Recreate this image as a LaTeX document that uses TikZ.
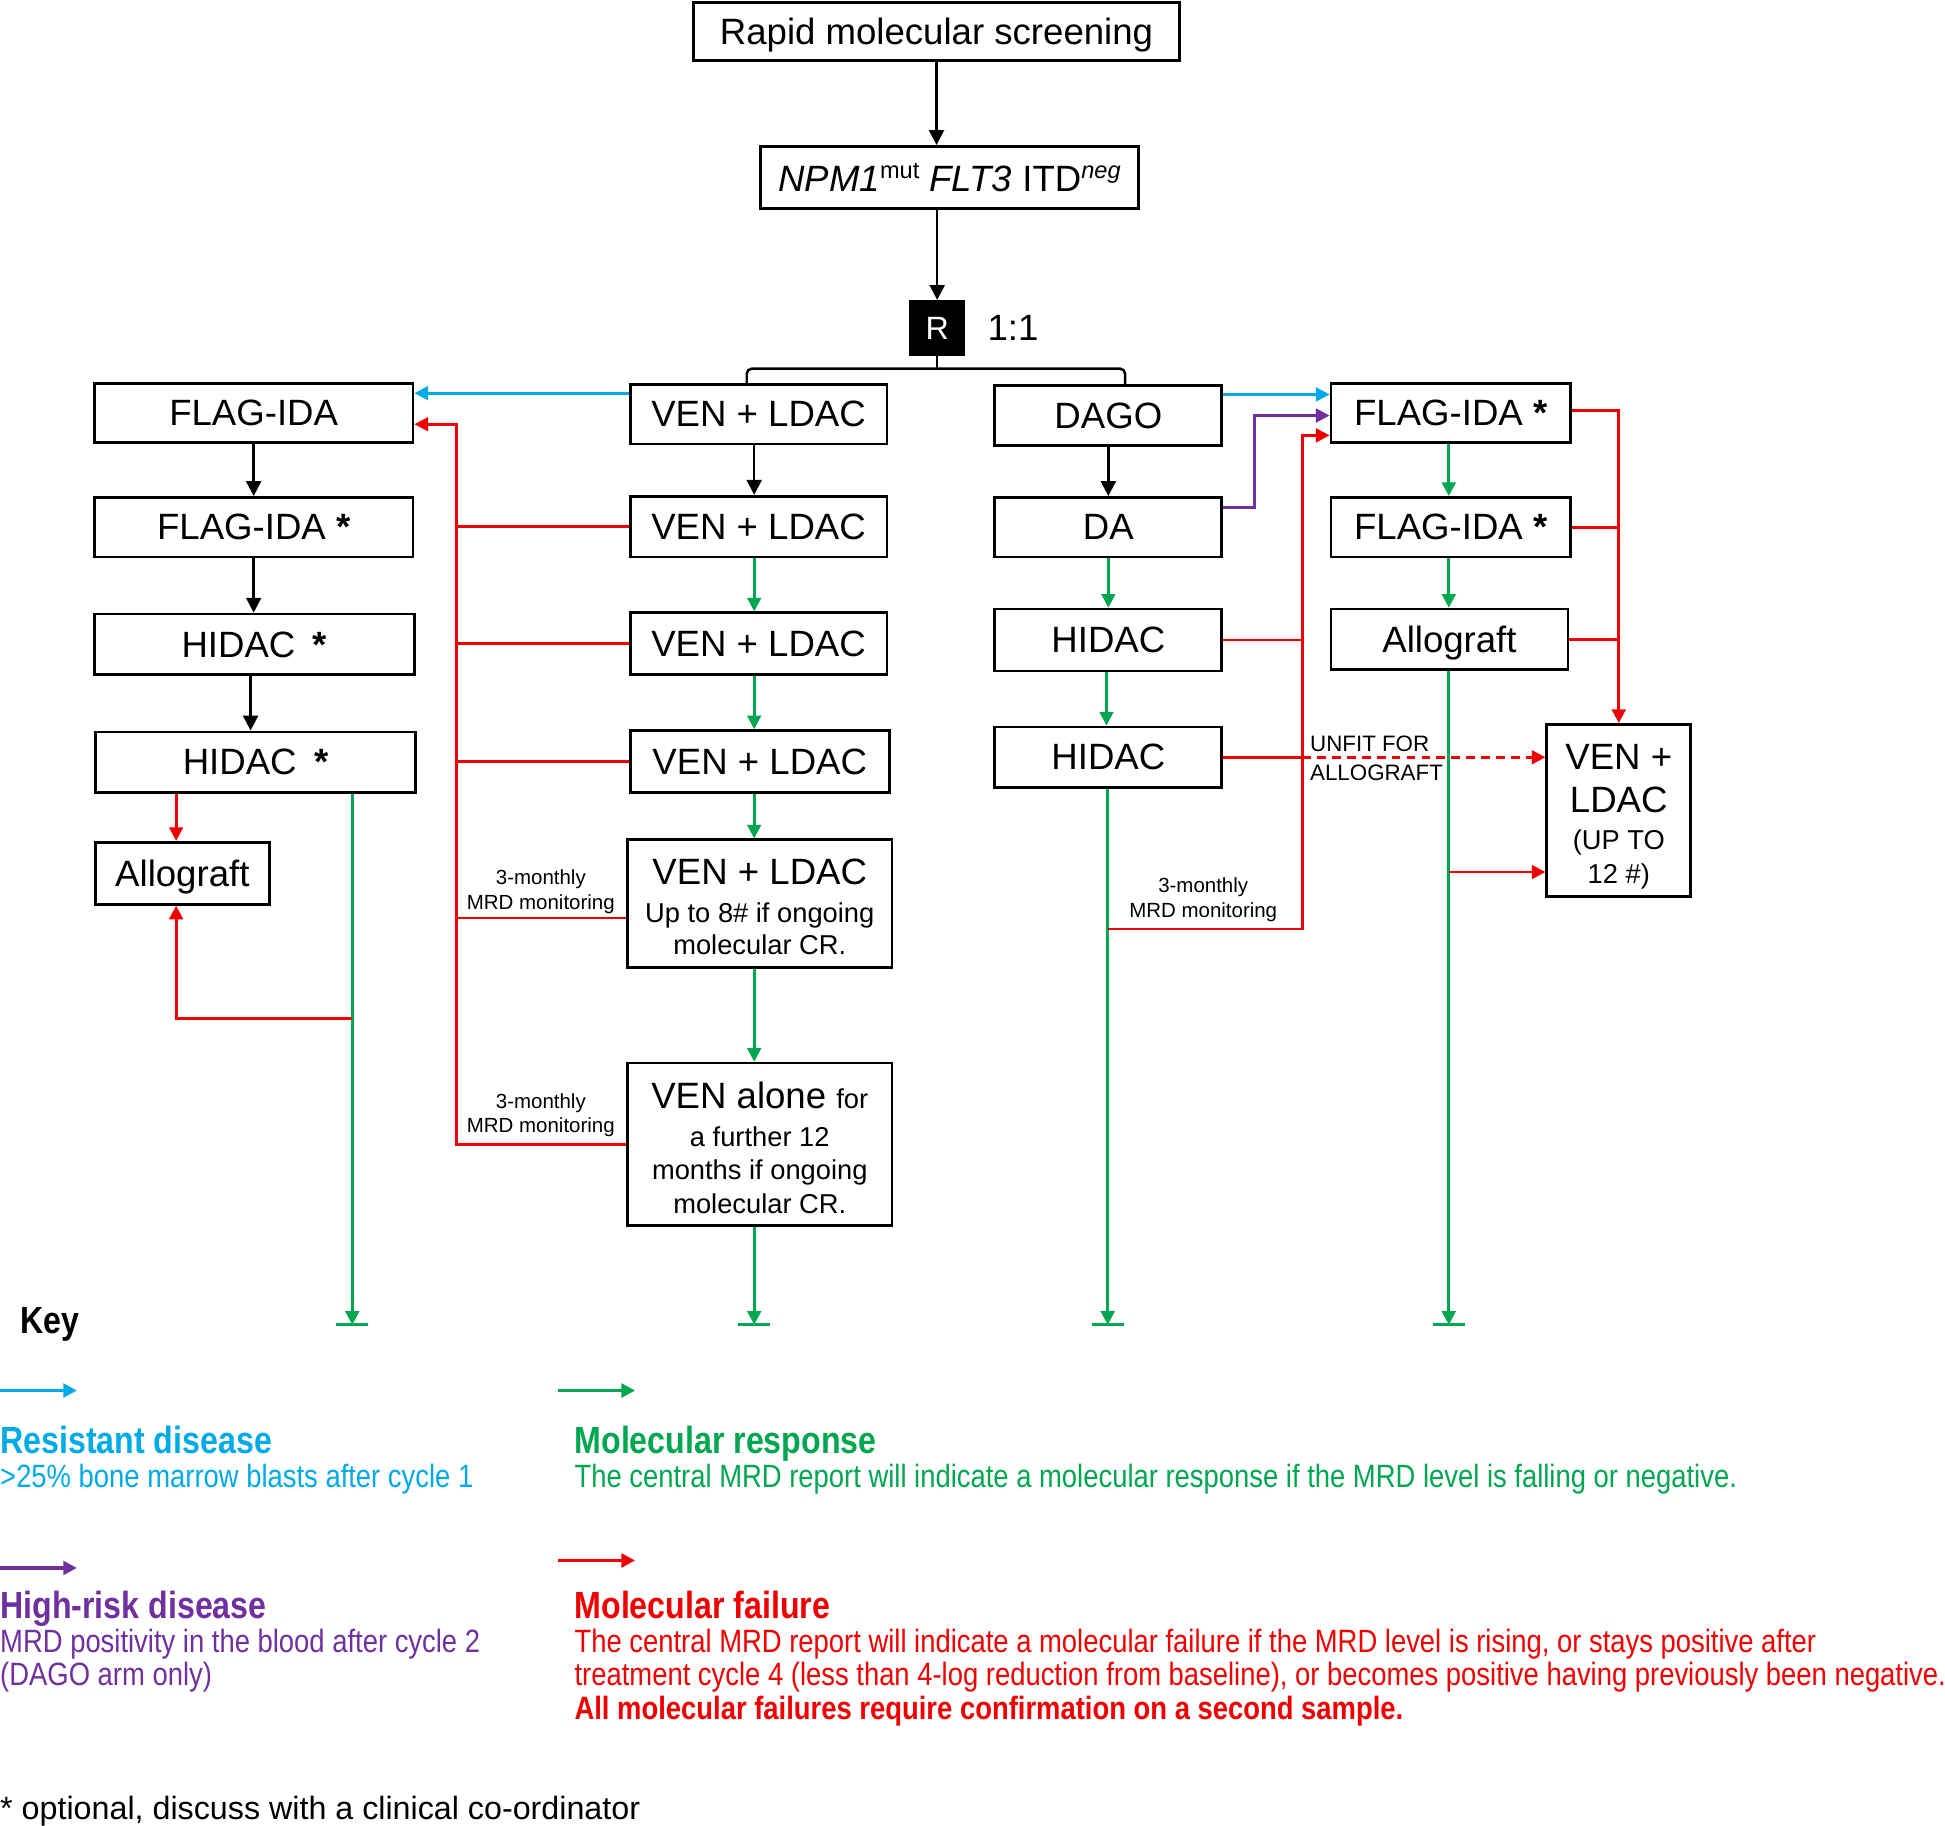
\documentclass[tikz,border=0pt]{standalone}
\usepackage{fontspec}
\setmainfont{Liberation Sans}
\newfontfamily\keyfont[FakeStretch=0.85]{Liberation Sans}
\usetikzlibrary{arrows.meta,calc}
\definecolor{cblue}{RGB}{0,170,230}
\definecolor{cgreen}{RGB}{0,166,80}
\definecolor{cpurple}{RGB}{112,48,160}
\definecolor{cred}{RGB}{240,0,0}
\newcommand\smtxt{\fontsize{22}{26}\selectfont}
\newcommand\bigtxt{\fontsize{29.5}{34}\selectfont}
\begin{document}
\begin{tikzpicture}[x=1pt,y=-1pt,
  box/.style={draw, line width=2.2pt, inner sep=0pt, align=center, font=\bigtxt},
  capbox/.style={box, text height=21.5pt, text depth=0pt},
  blk/.style={line width=2pt, -{Triangle[length=12pt,width=12pt]}},
  gar/.style={line width=2.2pt, draw=cgreen, -{Triangle[length=11pt,width=11pt]}},
  rln/.style={line width=2.2pt, draw=cred},
  rar/.style={rln, -{Triangle[length=11pt,width=11pt]}},
  bar/.style={line width=2.2pt, draw=cgreen},
  lbl/.style={inner sep=0pt, align=center, font=\fontsize{16.5}{20}\selectfont},
  keytxt/.style={anchor=base west, inner sep=0pt, font=\keyfont\fontsize{26}{27}\selectfont},
  keyhd/.style={anchor=base west, inner sep=0pt, font=\keyfont\bfseries\fontsize{30.5}{27}\selectfont},
  keybd/.style={anchor=base west, inner sep=0pt, font=\keyfont\bfseries\fontsize{26}{27}\selectfont},
  keyar/.style={line width=2.6pt, -{Triangle[length=11pt,width=11pt]}}
]
\useasboundingbox (0,0) rectangle (1568,1472);

% top
\node[capbox, minimum width=392pt, minimum height=47pt] (rapid) at (755,25.5) {Rapid molecular screening};
\node[box, minimum width=305pt, minimum height=50pt] (npm) at (765.5,143)
  {\textit{NPM1}\raisebox{11pt}{\fontsize{19}{20}\selectfont mut} \textit{FLT3} ITD\raisebox{11pt}{\fontsize{19}{20}\selectfont\itshape neg}};
\node[fill=black, minimum width=45pt, minimum height=45pt, inner sep=0pt, text=white, font=\fontsize{26}{30}\selectfont] (R) at (755.5,264.5) {R};
\node[anchor=west, inner sep=0pt, font=\bigtxt] (ratio) at (796,264) {1:1};

\draw[blk] (rapid.south) -- (rapid.south |- npm.north);
\draw[blk] (npm.south -| R.north) -- (R.north);

% left column
\node[box, minimum width=257pt, minimum height=48pt] (L1) at (204.5,333) {FLAG-IDA};
\node[box, minimum width=257pt, minimum height=48pt] (L2) at (204.5,425) {FLAG-IDA \textbf{*}};
\node[box, minimum width=258pt, minimum height=49pt] (L3) at (205,519.5) {HIDAC\hspace{14pt}\textbf{*}};
\node[box, minimum width=258pt, minimum height=49pt] (L4) at (206,614.5) {HIDAC\hspace{14pt}\textbf{*}};
\node[capbox, minimum width=140pt, minimum height=50pt] (L5) at (147,704) {Allograft};

% middle column
\node[box, minimum width=207pt, minimum height=48pt] (M1) at (611.5,334) {VEN + LDAC};
\node[box, minimum width=207pt, minimum height=49pt] (M2) at (611.5,424.5) {VEN + LDAC};
\node[box, minimum width=207pt, minimum height=50pt] (M3) at (611.5,519) {VEN + LDAC};
\node[box, minimum width=209pt, minimum height=50pt] (M4) at (612.5,614) {VEN + LDAC};
\node[box, minimum width=213pt, minimum height=103pt] (M5) at (612.5,728.5)
  {\rule{0pt}{26pt}VEN + LDAC\\[-4pt]{\smtxt Up to 8\# if ongoing}\\[-8pt]{\smtxt molecular CR.}};
\node[box, minimum width=213pt, minimum height=131pt] (M6) at (612.5,922.5)
  {\rule{0pt}{27pt}VEN alone {\smtxt for}\\[-4pt]{\smtxt a further 12}\\[-7pt]{\smtxt months if ongoing}\\[-7pt]{\smtxt molecular CR.}};

% DAGO column
\node[box, minimum width=183pt, minimum height=48pt] (D1) at (893.5,335) {DAGO};
\node[box, minimum width=183pt, minimum height=48pt] (D2) at (893.5,425) {DA};
\node[box, minimum width=183pt, minimum height=50pt] (D3) at (893.5,516) {HIDAC};
\node[box, minimum width=183pt, minimum height=49pt] (D4) at (893.5,610.5) {HIDAC};

% right column
\node[box, minimum width=193pt, minimum height=48pt] (R1) at (1169.5,333) {FLAG-IDA \textbf{*}};
\node[box, minimum width=193pt, minimum height=48pt] (R2) at (1169.5,425) {FLAG-IDA \textbf{*}};
\node[capbox, minimum width=191pt, minimum height=49pt] (R3) at (1168.5,515.5) {Allograft};
\node[box, minimum width=116pt, minimum height=139pt] (R4) at (1305,653.5)
  {\rule{0pt}{30pt}VEN +\\[1pt]LDAC\\[-4pt]{\smtxt (UP TO}\\[-7pt]{\smtxt 12 \#)}};

% bracket
\draw[line width=2pt] (R.south) -- ++(0,10) coordinate (br);
\draw[line width=2pt, rounded corners=4pt] ([xshift=-9.5pt]M1.north) |- (br) -| ([xshift=13.5pt]D1.north);

% left column arrows
\draw[blk] (L1.south) -- (L1.south |- L2.north);
\draw[blk] (L2.south) -- (L2.south |- L3.north);
\draw[blk] ([xshift=-3pt]L3.south) -- ([xshift=-3pt]L3.south |- L4.north);
\draw[rar] ([xshift=-5pt]L5.north |- L4.south) -- ([xshift=-5pt]L5.north);
\coordinate (endL) at (284,1068);
\draw[gar] (L4.south -| endL) -- (endL);
\draw[bar] ([xshift=-13pt]endL) -- ([xshift=13pt]endL);
\coordinate (gL) at (284,821);
\draw[rar] (gL) -| ([xshift=-5pt]L5.south);

% middle arrows
\draw[blk] ([xshift=-3.5pt]M1.south) -- ([xshift=-3.5pt]M1.south |- M2.north);
\draw[gar] ([xshift=-3.5pt]M2.south) -- ([xshift=-3.5pt]M2.south |- M3.north);
\draw[gar] ([xshift=-3.5pt]M3.south) -- ([xshift=-3.5pt]M3.south |- M4.north);
\draw[gar] ([xshift=-4.5pt]M4.south) -- ([xshift=-4.5pt]M4.south |- M5.north);
\draw[gar] ([xshift=-4.5pt]M5.south) -- ([xshift=-4.5pt]M5.south |- M6.north);
\coordinate (endM) at (608,1068);
\draw[gar] (M6.south -| endM) -- (endM);
\draw[bar] ([xshift=-13pt]endM) -- ([xshift=13pt]endM);

% resistant (blue) from VEN+LDAC to FLAG-IDA
\draw[line width=2.2pt, draw=cblue, -{Triangle[length=11pt,width=11pt]}] ([yshift=17pt]M1.west) -- ([yshift=17pt]M1.west -| L1.east);

% red spine on left
\coordinate (sp) at (368,342);
\draw[rar] (M6.west) -| (sp) -- (sp -| L1.east);
\draw[rln] (M2.west) -- (M2.west -| sp);
\draw[rln] (M3.west) -- (M3.west -| sp);
\draw[rln] (M4.west) -- (M4.west -| sp);
\draw[rln] ([yshift=-11.5pt]M5.west) -- ([yshift=-11.5pt]M5.west -| sp);
\node[lbl] (lab1) at (436,719) {3-monthly\\MRD monitoring};
\node[lbl] (lab2) at (436,899) {3-monthly\\MRD monitoring};

% DAGO arrows
\draw[blk] (D1.south) -- (D1.south |- D2.north);
\draw[gar] (D2.south) -- (D2.south |- D3.north);
\draw[gar] ([xshift=-1.5pt]D3.south) -- ([xshift=-1.5pt]D3.south |- D4.north);
\coordinate (endD) at (893,1068);
\draw[gar] (D4.south -| endD) -- (endD);
\draw[bar] ([xshift=-13pt]endD) -- ([xshift=13pt]endD);

\draw[line width=2.2pt, draw=cblue, -{Triangle[length=11pt,width=11pt]}] ([yshift=17pt]D1.east) -- ([yshift=17pt]D1.east -| R1.west);
\draw[line width=2.2pt, draw=cpurple, -{Triangle[length=11pt,width=11pt]}] ([yshift=16pt]D2.east) -- ++(25,0) |- ([yshift=-2pt]R1.west);

\coordinate (dg) at (893,749);
\coordinate (rs) at (1050,351);
\draw[rar] (dg) -| (rs) -- (rs -| R1.west);
\draw[rln] (D3.east) -- (D3.east -| rs);
\draw[rln] (D4.east) -- (D4.east -| rs);
\draw[rar, dash pattern=on 7pt off 5pt] (D4.east -| rs) -- (D4.east -| R4.west);
\node[lbl] (lab3) at (970,725) {3-monthly\\MRD monitoring};
\node[inner sep=0pt, align=left, anchor=west, font=\fontsize{18}{23}\selectfont] (unfit) at (1056,611.5) {UNFIT FOR\\ALLOGRAFT};

% right column arrows
\draw[gar] ([xshift=-1.5pt]R1.south) -- ([xshift=-1.5pt]R1.south |- R2.north);
\draw[gar] ([xshift=-1.5pt]R2.south) -- ([xshift=-1.5pt]R2.south |- R3.north);
\coordinate (endR) at (1168,1068);
\draw[gar] (R3.south -| endR) -- (endR);
\draw[bar] ([xshift=-13pt]endR) -- ([xshift=13pt]endR);
\draw[rar] ([yshift=2pt]R1.east) -| (R4.north);
\draw[rln] (R2.east) -- (R2.east -| R4.north);
\draw[rln] (R3.east) -- (R3.east -| R4.north);
\coordinate (rg) at (1168,703);
\draw[rar] (rg) -- (rg -| R4.west);

% key
\node[keyhd, anchor=west, text=black] (key) at (16,1068) {Key};
\coordinate (kb0) at (0,1121); \coordinate (kb1) at (62,1121);
\draw[keyar, draw=cblue] (kb0) -- (kb1);
\node[keyhd, text=cblue] (rd1) at (0,1172) {Resistant disease};
\node[keytxt, text=cblue] (rd2) at (0,1199) {>25\% bone marrow blasts after cycle 1};

\coordinate (kp0) at (0,1264); \coordinate (kp1) at (62,1264);
\draw[keyar, draw=cpurple] (kp0) -- (kp1);
\node[keyhd, text=cpurple] (hr1) at (0,1305) {High-risk disease};
\node[keytxt, text=cpurple] (hr2) at (0,1332) {MRD positivity in the blood after cycle 2};
\node[keytxt, text=cpurple] (hr3) at (0,1359) {(DAGO arm only)};

\coordinate (kg0) at (450,1121); \coordinate (kg1) at (512,1121);
\draw[keyar, draw=cgreen] (kg0) -- (kg1);
\node[keyhd, text=cgreen] (mr1) at (463,1172) {Molecular response};
\node[keytxt, text=cgreen] (mr2) at (463,1199) {The central MRD report will indicate a molecular response if the MRD level is falling or negative.};

\coordinate (kr0) at (450,1258); \coordinate (kr1) at (512,1258);
\draw[keyar, draw=cred] (kr0) -- (kr1);
\node[keyhd, text=cred] (mf1) at (463,1305) {Molecular failure};
\node[keytxt, text=cred] (mf2) at (463,1332) {The central MRD report will indicate a molecular failure if the MRD level is rising, or stays positive after};
\node[keytxt, text=cred] (mf3) at (463,1359) {treatment cycle 4 (less than 4-log reduction from baseline), or becomes positive having previously been negative.};
\node[keybd, text=cred] (mf4) at (463,1386) {All molecular failures require confirmation on a second sample.};

\node[anchor=base west, inner sep=0pt, font=\fontsize{26}{30}\selectfont] (foot) at (0,1467) {* optional, discuss with a clinical co-ordinator};
\end{tikzpicture}
\end{document}
